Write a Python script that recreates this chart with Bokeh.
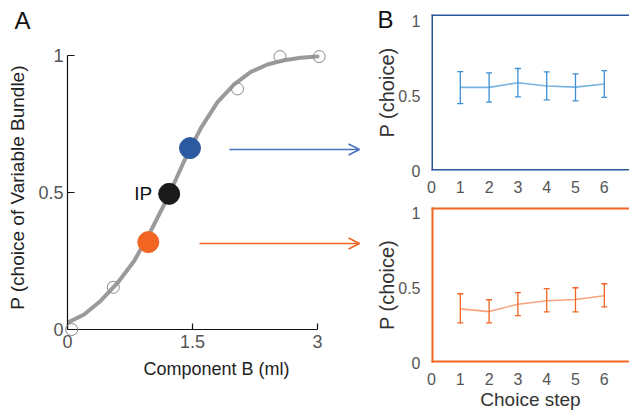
from bokeh.plotting import figure
from bokeh.layouts import row, column
from bokeh.models import (ColumnDataSource, Range1d, Label, Arrow, OpenHead,
                          Whisker, TeeHead, FixedTicker, CustomJSTickFormatter, Span)
from bokeh.core.properties import value
from bokeh.embed import file_html
from bokeh.resources import INLINE

FONT = "Liberation Sans"

# ---------------- Panel A data ----------------
curve_x = [0.0, 0.2, 0.4, 0.6, 0.8, 1.0, 1.2, 1.4, 1.6, 1.8, 2.0, 2.2, 2.4, 2.6, 2.8, 3.0]
curve_y = [0.025, 0.055, 0.105, 0.17, 0.25, 0.36, 0.48, 0.615, 0.735, 0.83, 0.895, 0.94,
           0.967, 0.983, 0.992, 0.996]
obs_x = [0.05, 0.55, 2.04, 2.55, 3.02]
obs_y = [0.0, 0.154, 0.878, 0.996, 0.996]
key_x = [0.97, 1.22, 1.47]
key_y = [0.319, 0.495, 0.662]
key_colors = ["#f26522", "#1a1a1a", "#2c5aa0"]
ip_label = "IP"
arrow_x_start = [1.584, 1.944]   # orange, blue
arrow_x_end = [3.504, 3.504]
arrow_y = [0.314, 0.657]
arrow_colors = ["#f26522", "#4a72c0"]
a_xticks = [0, 1.5, 3]
a_yticks = [0, 0.5, 1]

# ---------------- Panel B data ----------------
steps = [1, 2, 3, 4, 5, 6]
blue_mean = [0.554, 0.554, 0.585, 0.563, 0.556, 0.577]
blue_upper = [0.659, 0.651, 0.680, 0.657, 0.644, 0.666]
blue_lower = [0.446, 0.456, 0.491, 0.471, 0.464, 0.487]
orange_mean = [0.358, 0.340, 0.389, 0.412, 0.421, 0.446]
orange_upper = [0.459, 0.419, 0.466, 0.493, 0.499, 0.526]
orange_lower = [0.264, 0.264, 0.313, 0.338, 0.338, 0.372]
b_xticks = [0, 1, 2, 3, 4, 5, 6]
b_yticks = [0, 0.5, 1]

fmt = CustomJSTickFormatter(code="return tick.toString()")
TICK_GRAY = "#555555"
LABEL_COL = "#222222"

# ================= Panel A =================
pa = figure(width=370, height=413, x_range=Range1d(0, 3.576), y_range=Range1d(0, 1.0365),
            output_backend="svg", toolbar_location=None,
            min_border_left=67, min_border_right=5, min_border_top=45, min_border_bottom=84)
pa.outline_line_color = None
pa.grid.visible = False
pa.background_fill_color = "white"
pa.border_fill_color = "white"

for ax in (pa.xaxis[0], pa.yaxis[0]):
    ax.axis_line_color = "#111111"
    ax.axis_line_width = 1.2
    ax.major_tick_line_color = "#111111"
    ax.major_tick_line_width = 1.2
    ax.major_tick_out = 0
    ax.minor_tick_line_color = None
    ax.major_label_text_font = FONT
    ax.major_label_text_font_size = "18px"
    ax.major_label_text_color = TICK_GRAY
    ax.axis_label_text_font = FONT
    ax.axis_label_text_font_size = "18px"
    ax.axis_label_text_font_style = "normal"
    ax.axis_label_text_color = LABEL_COL
    ax.formatter = fmt

pa.xaxis.bounds = (0, 3)
pa.xaxis.ticker = FixedTicker(ticks=a_xticks)
pa.xaxis.major_tick_in = 6
pa.xaxis.major_label_standoff = 5
pa.xaxis.axis_label = "Component B (ml)"
pa.xaxis.axis_label_standoff = 8

pa.yaxis.bounds = (0, 1)
pa.yaxis.ticker = FixedTicker(ticks=a_yticks)
pa.yaxis.major_tick_in = 7
pa.yaxis.major_label_standoff = 4
pa.yaxis.axis_label = "P (choice of Variable Bundle)"
pa.yaxis.axis_label_standoff = 7
pa.yaxis.axis_label_text_font_size = "19px"

pa.line(curve_x, curve_y, line_color="#9a9a9a", line_width=4, line_join="round", line_cap="round")
pa.scatter(obs_x, obs_y, size=12, fill_alpha=0, line_color="#8a8a8a", line_width=1, level="overlay")
pa.scatter(key_x, key_y, size=21, fill_color=key_colors, line_color=key_colors)

pa.add_layout(Label(x=key_x[1], y=key_y[1], text=ip_label, x_offset=-17, text_align="right",
                    text_baseline="middle", text_font=FONT, text_font_size="19px",
                    text_color="#111111"))
for xs, xe, yy, c in zip(arrow_x_start, arrow_x_end, arrow_y, arrow_colors):
    pa.add_layout(Arrow(x_start=xs, y_start=yy, x_end=xe, y_end=yy, line_color=c, line_width=1.6,
                        end=OpenHead(size=11, line_color=c, line_width=1.6)))
pa.text(x=[-0.54], y=[1.126], text=["A"], text_align="center", text_baseline="middle",
        text_font=value(FONT), text_font_size="24px", text_color="#111111", level="overlay")


# ================= Panel B =================
def make_b(height, ytop, mborder_top, mborder_bottom, border_color, border_w, mean, upper, lower,
           err_color, line_color, xlabel):
    p = figure(width=259, height=height, x_range=Range1d(0, 6.875), y_range=Range1d(0, ytop),
               output_backend="svg", toolbar_location=None,
               min_border_left=61, min_border_right=0, min_border_top=mborder_top,
               min_border_bottom=mborder_bottom)
    p.outline_line_color = None
    p.grid.visible = False
    for ax in (p.xaxis[0], p.yaxis[0]):
        ax.axis_line_color = None
        ax.major_tick_line_color = None
        ax.minor_tick_line_color = None
        ax.major_label_text_font = FONT
        ax.major_label_text_font_size = "16px"
        ax.major_label_text_color = TICK_GRAY
        ax.axis_label_text_font = FONT
        ax.axis_label_text_font_style = "normal"
        ax.axis_label_text_color = "#333333"
        ax.formatter = fmt
    p.xaxis.ticker = FixedTicker(ticks=b_xticks)
    p.yaxis.ticker = FixedTicker(ticks=b_yticks)
    p.xaxis.major_label_standoff = 4
    p.yaxis.major_label_standoff = 5
    p.yaxis.axis_label = "P (choice)"
    p.yaxis.axis_label_text_font_size = "20px"
    p.yaxis.axis_label_standoff = -3
    if xlabel:
        p.xaxis.axis_label = xlabel
        p.xaxis.axis_label_text_font_size = "19px"
        p.xaxis.axis_label_standoff = 1

    src = ColumnDataSource(dict(x=steps, mean=mean, upper=upper, lower=lower))
    p.line("x", "mean", source=src, line_color=line_color, line_width=1.6)
    p.add_layout(Whisker(source=src, base="x", upper="upper", lower="lower",
                         line_color=err_color, line_width=1.3, level="glyph",
                         upper_head=TeeHead(size=6, line_color=err_color, line_width=1.3),
                         lower_head=TeeHead(size=6, line_color=err_color, line_width=1.3)))
    # frame borders (left, bottom, top)
    p.add_layout(Span(location=0, dimension="height", line_color=border_color,
                      line_width=border_w, line_cap="square"))
    p.add_layout(Span(location=0, dimension="width", line_color=border_color,
                      line_width=border_w, line_cap="square"))
    p.add_layout(Span(location=ytop, dimension="width", line_color=border_color,
                      line_width=border_w, line_cap="square"))
    return p


pb1 = make_b(196, 1.04, 14, 26, "#2b5797", 3, blue_mean, blue_upper, blue_lower,
             "#3d8fd4", "#78b4e2", None)
pb1.text(x=[-1.6], y=[1.01], text=["B"], text_align="center", text_baseline="middle",
         text_font=value(FONT), text_font_size="24px", text_color="#111111", level="overlay")
pb2 = make_b(217, 1.035, 11, 51, "#f26522", 4, orange_mean, orange_upper, orange_lower,
             "#f26522", "#f8a47e", "Choice step")

layout = row(pa, column(pb1, pb2))

open("out.html", "w").write(file_html(layout, INLINE))
